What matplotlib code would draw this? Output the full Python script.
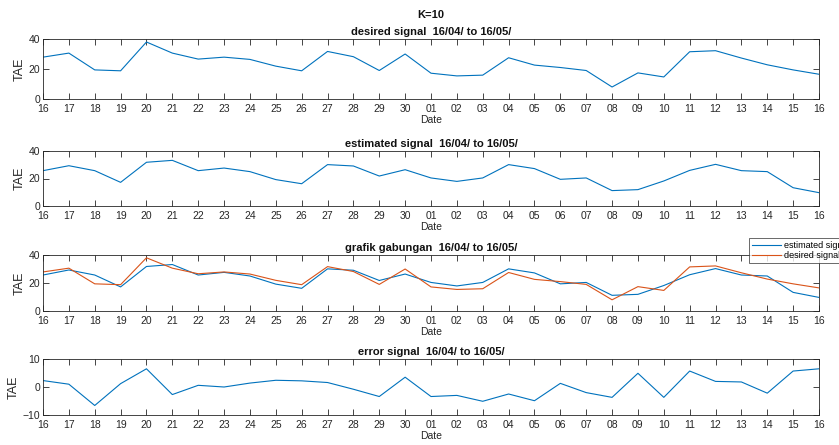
import matplotlib.pyplot as plt

plt.rcParams['font.family'] = ['Liberation Sans', 'DejaVu Sans']

days = ['16', '17', '18', '19', '20', '21', '22', '23', '24', '25', '26', '27', '28', '29', '30',
        '01', '02', '03', '04', '05', '06', '07', '08', '09', '10', '11', '12', '13', '14', '15', '16']

desired = [27.9, 30.6, 19.4, 18.8, 38.0, 30.6, 26.6, 27.9, 26.4, 21.9, 18.8, 31.7, 28.2, 19.0, 30.0,
           17.2, 15.4, 15.9, 27.5, 22.6, 21.0, 19.0, 8.0, 17.4, 14.7, 31.5, 32.2, 27.3, 22.8, 19.4, 16.5]

estimated = [25.7, 29.3, 25.7, 17.2, 31.8, 33.2, 25.7, 27.6, 25.0, 19.2, 16.2, 30.1, 29.1, 21.8, 26.4,
             20.4, 17.9, 20.4, 30.1, 27.2, 19.4, 20.4, 11.2, 11.9, 18.2, 25.9, 30.3, 25.7, 25.0, 13.3, 9.7]

error = [2.3, 1.0, -6.6, 1.2, 6.5, -2.7, 0.6, 0.0, 1.4, 2.4, 2.2, 1.6, -0.8, -3.4, 3.5,
         -3.4, -3.0, -5.1, -2.5, -4.9, 1.3, -2.0, -3.7, 4.9, -3.7, 5.7, 2.0, 1.8, -2.2, 5.7, 6.5]

period = '16/04/ to 16/05/'
blue = '#0072BD'
orange = '#D95319'
grey = '#262626'

W, H = 839, 445
fig = plt.figure(figsize=(W / 100, H / 100), dpi=100)


def make_axes(top, bottom):
    ax = fig.add_axes([43 / W, 1 - bottom / H, 776 / W, (bottom - top) / H])
    for s in ax.spines.values():
        s.set_color(grey)
        s.set_linewidth(0.6)
    ax.tick_params(direction='in', top=True, right=True, length=4, width=0.6,
                   labelsize=7.5, colors=grey, pad=2)
    ax.tick_params(axis='x', pad=3.5)
    ax.set_xlim(0, len(days) - 1)
    ax.set_xticks(range(len(days)))
    ax.set_xticklabels(days)
    ax.set_xlabel('Date', fontsize=7.5, color=grey, labelpad=0.5)
    ax.set_ylabel('TAE', fontsize=9, color=grey, labelpad=2)
    return ax


x = list(range(len(days)))

ax1 = make_axes(39, 99)
ax1.plot(x, desired, color=blue, lw=0.8)
ax1.set_ylim(0, 40)
ax1.set_yticks([0, 20, 40])
ax1.set_title('desired signal  ' + period, fontsize=8, fontweight='bold', pad=3, color='#111111')
fig.text(431 / W, 1 - 15 / H, 'K=10', ha='center', va='center', fontsize=8,
         fontweight='bold', color='#111111')

ax2 = make_axes(151, 206)
ax2.plot(x, estimated, color=blue, lw=0.8)
ax2.set_ylim(0, 40)
ax2.set_yticks([0, 20, 40])
ax2.set_title('estimated signal  ' + period, fontsize=8, fontweight='bold', pad=3, color='#111111')

ax3 = make_axes(255, 311)
ax3.plot(x, estimated, color=blue, lw=0.8, label='estimated signal')
ax3.plot(x, desired, color=orange, lw=0.8, label='desired signal')
ax3.set_ylim(0, 40)
ax3.set_yticks([0, 20, 40])
ax3.set_title('grafik gabungan  ' + period, fontsize=8, fontweight='bold', pad=3, color='#111111')
# legend sticks out past the right edge, like in the original
leg = ax3.legend(loc='upper left', bbox_to_anchor=(749 / W, 1 - 238 / H),
                 bbox_transform=fig.transFigure, fontsize=6.5, frameon=True,
                 fancybox=False, borderpad=0.3, handlelength=3.2, handletextpad=0.4,
                 labelspacing=0.15, borderaxespad=0)
leg.get_frame().set_edgecolor(grey)
leg.get_frame().set_linewidth(0.6)

ax4 = make_axes(359, 415)
ax4.plot(x, error, color=blue, lw=0.8)
ax4.set_ylim(-10, 10)
ax4.set_yticks([-10, 0, 10])
ax4.set_title('error signal  ' + period, fontsize=8, fontweight='bold', pad=3, color='#111111')

fig.savefig('out.png', dpi=100)
